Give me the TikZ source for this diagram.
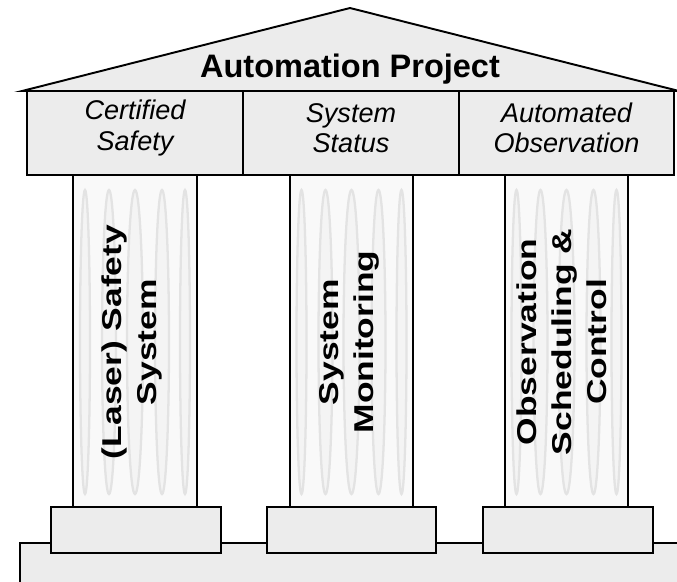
\documentclass[tikz,border=0pt]{standalone}
\usepackage{fontspec}
\setmainfont{Liberation Sans}
\begin{document}
\begin{tikzpicture}[%
% common options for the stone parts:
stone/.style = {draw, fill=gray!15, line width=1.1pt},
% common options for the shafts:
shaft/.style = {draw, fill=gray!5, line width=1.1pt},
% common options for the flutes:
flute/.style = {draw=gray!22, fill=gray!9, line width=1.3pt},
% common options for the texts:
roofname/.style = {anchor=base, font=\fontsize{18.5}{22}\selectfont\bfseries},
beamname/.style = {align=center, font=\fontsize{15.4}{17.3}\selectfont\itshape},
pillarname/.style = {rotate=90, xscale=1.3, align=center,
            font=\fontsize{15.5}{20}\selectfont\bfseries}]
\useasboundingbox (0,0) rectangle (13.54,-11.62);
% ground and bases
\draw[stone] (0.40,-10.86) rectangle (13.80,-11.80);
\draw[stone] (1.02,-10.14) rectangle (4.42,-11.06);
\draw[stone] (5.34,-10.14) rectangle (8.72,-11.06);
\draw[stone] (9.66,-10.14) rectangle (13.06,-11.06);
% shafts
\draw[shaft] (1.46,-3.50) rectangle (3.94,-10.14);
\draw[shaft] (5.80,-3.50) rectangle (8.26,-10.14);
\draw[shaft] (10.10,-3.50) rectangle (12.56,-10.14);
\draw[flute] (1.70,-6.84) ellipse [x radius=0.10, y radius=3.04];
\draw[flute] (2.18,-6.84) ellipse [x radius=0.14, y radius=3.04];
\draw[flute] (2.70,-6.84) ellipse [x radius=0.16, y radius=3.04];
\draw[flute] (3.24,-6.84) ellipse [x radius=0.14, y radius=3.04];
\draw[flute] (3.70,-6.84) ellipse [x radius=0.10, y radius=3.04];
\draw[flute] (6.03,-6.84) ellipse [x radius=0.10, y radius=3.04];
\draw[flute] (6.51,-6.84) ellipse [x radius=0.14, y radius=3.04];
\draw[flute] (7.03,-6.84) ellipse [x radius=0.16, y radius=3.04];
\draw[flute] (7.57,-6.84) ellipse [x radius=0.14, y radius=3.04];
\draw[flute] (8.03,-6.84) ellipse [x radius=0.10, y radius=3.04];
\draw[flute] (10.33,-6.84) ellipse [x radius=0.10, y radius=3.04];
\draw[flute] (10.81,-6.84) ellipse [x radius=0.14, y radius=3.04];
\draw[flute] (11.33,-6.84) ellipse [x radius=0.16, y radius=3.04];
\draw[flute] (11.87,-6.84) ellipse [x radius=0.14, y radius=3.04];
\draw[flute] (12.33,-6.84) ellipse [x radius=0.10, y radius=3.04];
% roof and beam
\draw[stone] (0.44,-1.82) -- (7.00,-0.16) -- (13.58,-1.82) -- cycle;
\draw[stone] (0.54,-1.82) rectangle (13.48,-3.50);
\draw[line width=1.1pt] (4.86,-1.82) -- (4.86,-3.50);
\draw[line width=1.1pt] (9.18,-1.82) -- (9.18,-3.50);
% texts
\node[roofname] (T0) at (7.00,-1.54) {Automation Project};
\node[beamname] (B1) at (2.70,-2.56) {Certified\\Safety};
\node[beamname] (B2) at (7.02,-2.56) {System\\Status};
\node[beamname] (B3) at (11.33,-2.56) {Automated\\Observation};
\node[pillarname] (P1) at (2.64,-6.84) {(Laser) Safety\\System};
\node[pillarname] (P2) at (6.99,-6.84) {System\\Monitoring};
\node[pillarname] (P3) at (11.24,-6.84) {Observation\\Scheduling \&\\Control};
\end{tikzpicture}
\end{document}
